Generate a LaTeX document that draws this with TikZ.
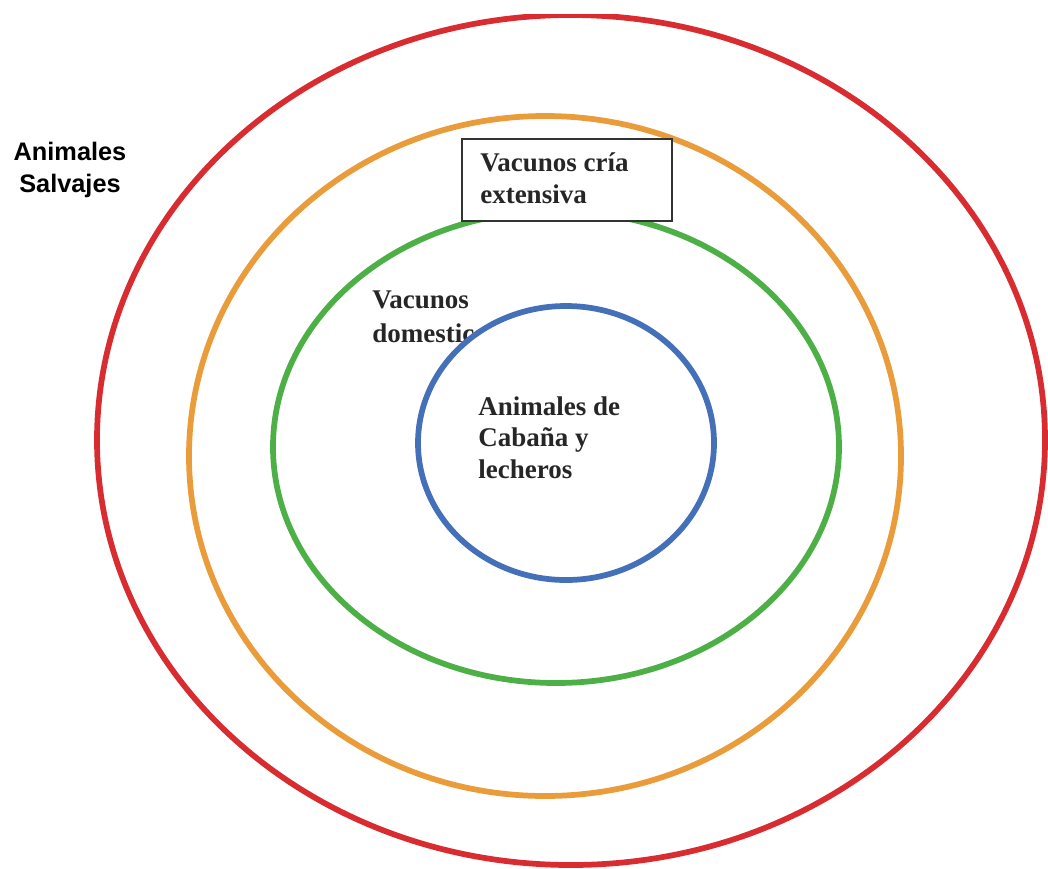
\documentclass[tikz,border=0pt]{standalone}
\usepackage{fontspec}
\setmainfont{Liberation Serif}
\setsansfont{Liberation Sans}
\definecolor{ringred}{RGB}{216,44,48}
\definecolor{ringorange}{RGB}{234,155,58}
\definecolor{ringgreen}{RGB}{76,176,70}
\definecolor{ringblue}{RGB}{68,112,186}
\tikzset{ring/.style={line width=4.3pt}}
\tikzset{label serif/.style={font=\fontsize{20.25}{23.5}\selectfont\bfseries, inner sep=0pt, anchor=base west, align=left, text=black!85}}
\tikzset{label sans/.style={font=\fontsize{19}{24}\selectfont\sffamily\bfseries, inner sep=0pt, anchor=base, align=center}}

\begin{document}
\begin{tikzpicture}[x=0.75pt, y=-0.75pt]
    \useasboundingbox (0,0) rectangle (1048,868);
    \begin{scope}
      \clip (0,14) rectangle (1048,868);
      \draw[ring, ringred] (571,440) ellipse [x radius=474, y radius=425];
    \end{scope}
    \draw[ring, ringorange] (545,456) ellipse [x radius=356, y radius=340];
    \draw[ring, ringgreen] (556,447) ellipse [x radius=283, y radius=236];

    % the last line of each label sits on the given point
    \node[label serif, font=\fontsize{20.25}{25}\selectfont\bfseries] (domestic) at (372,342) {Vacunos\\domestic};
    \draw[ring, ringblue, fill=white] (566,443) ellipse [x radius=148, y radius=137];
    \node[label serif] (cabana) at (478,478) {Animales de\\Cabaña y\\lecheros};

    \node[draw=black!80, line width=1.5pt, fill=white, minimum width=157.5pt, minimum height=61.5pt, anchor=north west] (box) at (461,138) {};
    \node[label serif] (extensiva) at (480,203) {Vacunos cría\\extensiva};

    \node[label sans] (salvajes) at (70,192) {Animales\\Salvajes};
\end{tikzpicture}
\end{document}
